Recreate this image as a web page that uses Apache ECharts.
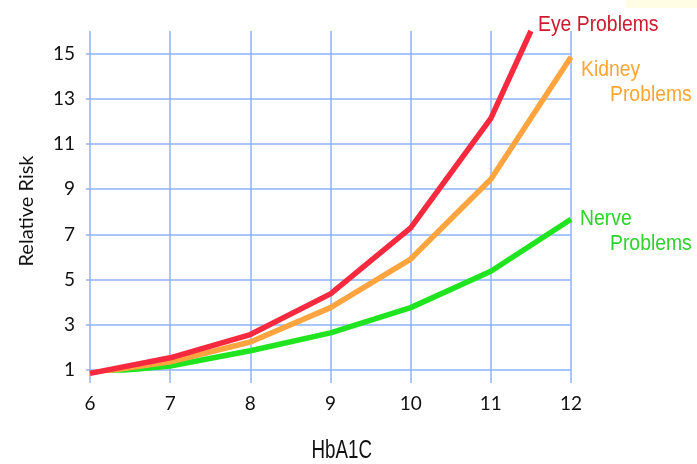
<!DOCTYPE html>
<html><head><meta charset="utf-8">
<script src="https://cdn.jsdelivr.net/npm/echarts@6/dist/echarts.min.js"></script>
<style>html,body{margin:0;padding:0;background:#fff}#c{width:697px;height:464px}</style>
</head><body><div id="c"></div>
<script>
const hba1c = [6, 7, 8, 9, 10, 11, 12];
const eyeX = [6, 7, 8, 9, 10, 11, 11.5];
const eyeRisk = [0.85, 1.54, 2.57, 4.37, 7.29, 12.13, 16.0];
const kidneyRisk = [0.85, 1.36, 2.24, 3.76, 5.91, 9.44, 14.85];
const nerveRisk = [0.85, 1.18, 1.85, 2.64, 3.76, 5.37, 7.67];
const yTicks = [1, 3, 5, 7, 9, 11, 13, 15];
const xTicks = [6, 7, 8, 9, 10, 11, 12];
const seriesNames = ['Eye Problems', 'Kidney', 'Problems', 'Nerve', 'Problems'];
const xName = 'HbA1C', yName = 'Relative Risk';

const gridCol = '#8db3ff';
const chart = echarts.init(document.getElementById('c'));
const pair = (xs, ys) => xs.map((x, i) => [x, ys[i]]);
const lblFont = '22px "Liberation Sans"';
const sx = 0.88;
chart.setOption({
  animation: false,
  grid: {left: 90, right: 126, top: 31, bottom: 94},
  xAxis: {
    type: 'value', min: 6, max: 12, interval: 1,
    axisLine: {show: false},
    axisTick: {show: true, length: 13, lineStyle: {color: gridCol, width: 1.5}, customValues: xTicks},
    axisLabel: {margin: 24, fontFamily: 'Lato', fontSize: 19, color: '#111', customValues: xTicks},
    splitLine: {show: true, lineStyle: {color: gridCol, width: 1.5}}
  },
  yAxis: {
    type: 'value', min: 1, max: 16, interval: 2,
    axisLine: {show: false},
    axisTick: {show: true, length: 4, lineStyle: {color: gridCol, width: 1.5}, customValues: yTicks},
    axisLabel: {margin: 15, fontFamily: 'Lato', fontSize: 19, color: '#111', customValues: yTicks},
    splitLine: {show: true, lineStyle: {color: [gridCol, gridCol, gridCol, gridCol, gridCol, gridCol, gridCol, gridCol, 'rgba(0,0,0,0)'], width: 1.5}}
  },
  series: [
    {type: 'line', data: pair(hba1c, nerveRisk), symbol: 'none', lineStyle: {color: '#1fe41f', width: 5.5}, z: 3},
    {type: 'line', data: pair(hba1c, kidneyRisk), symbol: 'none', lineStyle: {color: '#ffa43f', width: 5.5}, z: 4},
    {type: 'line', data: pair(eyeX, eyeRisk), symbol: 'none', lineStyle: {color: '#f7293f', width: 5.5}, z: 5, clip: false}
  ],
  graphic: [
    {type: 'rect', shape: {x: 626, y: 0, width: 71, height: 8}, style: {fill: '#fffde3'}},
    {type: 'text', x: 538, y: 25, scaleX: sx, style: {text: seriesNames[0], fill: '#cc1a2e', font: lblFont, verticalAlign: 'middle'}},
    {type: 'text', x: 581, y: 70, scaleX: sx, style: {text: seriesNames[1], fill: '#ffa534', font: lblFont, verticalAlign: 'middle'}},
    {type: 'text', x: 610, y: 95, scaleX: sx, style: {text: seriesNames[2], fill: '#ffa534', font: lblFont, verticalAlign: 'middle'}},
    {type: 'text', x: 580, y: 219, scaleX: sx, style: {text: seriesNames[3], fill: '#2fd22a', font: lblFont, verticalAlign: 'middle'}},
    {type: 'text', x: 610, y: 244, scaleX: sx, style: {text: seriesNames[4], fill: '#2fd22a', font: lblFont, verticalAlign: 'middle'}},
    {type: 'text', x: 341.7, y: 451, scaleX: 0.75, style: {text: xName, fill: '#111', font: '25px "Liberation Sans"', align: 'center', verticalAlign: 'middle'}},
    {type: 'text', x: 27, y: 211, rotation: Math.PI / 2, style: {text: yName, fill: '#111', font: '20px Lato', align: 'center', verticalAlign: 'middle'}}
  ]
});
</script></body></html>
